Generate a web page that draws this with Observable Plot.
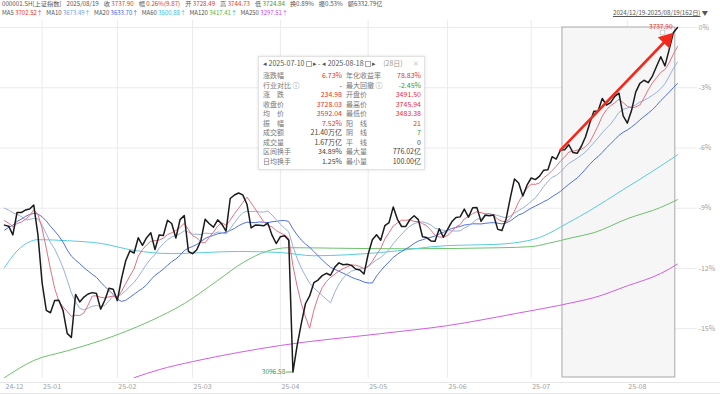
<!DOCTYPE html>
<html><head><meta charset="utf-8">
<script src="https://cdn.jsdelivr.net/npm/d3@7"></script>
<script src="https://cdn.jsdelivr.net/npm/@observablehq/plot@0.6"></script>
<style>
body{margin:0;background:#fff;font-family:"Noto Sans CJK SC","Noto Sans",sans-serif;}
#wrap{position:relative;width:720px;height:394px;overflow:hidden;background:#fff;}
#chart{position:absolute;left:0;top:0;}
.row{position:absolute;left:2px;white-space:nowrap;font-size:6.2px;color:#555;line-height:8px;}
.row span{margin-right:5px;}
#marow{font-size:6px;}
#marow span{margin-right:3.5px;}
.row b{font-weight:normal;}
.r{color:#e8322b;} .g{color:#2c9b3c;}
#range{position:absolute;right:12px;top:9px;font-size:6.2px;color:#555;line-height:8px;white-space:nowrap;}
#range u{text-decoration:underline;}
.axl{position:absolute;left:0;width:720px;height:1px;background:#e6e6e6;}
#box{position:absolute;left:258px;top:56px;width:165px;height:112px;background:#fff;border:1px solid #e2e2e2;box-shadow:0 0 3px rgba(0,0,0,0.12);font-size:7px;color:#555;}
#box div{position:absolute;white-space:nowrap;line-height:9px;}
.cal{display:inline-block;width:4px;height:4px;border:0.6px solid #aaa;margin:0 1px;vertical-align:middle;}
</style></head>
<body><div id="wrap"><div id="chart"></div>
<div class="row" style="top:0px">
<span>000001.SH[上证指数]</span><span>2025/08/19</span><span>收 <b class="r">3737.90</b></span><span>幅 <b class="r">0.26%(9.87)</b></span><span>开 <b class="r">3728.49</b></span><span>高 <b class="r">3744.73</b></span><span>低 <b class="g">3724.84</b></span><span>换0.89%</span><span>振0.53%</span><span>额6332.79亿</span>
</div>
<div class="row" id="marow" style="top:9px"></div>
<div id="range"><u>2024/12/19-2025/08/19(162日)</u> ▼</div>
<div class="axl" style="top:382px"></div>
<div class="axl" style="top:393px"></div>
<div id="box"></div>
</div>
<script>
// ---- data ----
const monthLabels = ["24-12","25-01","25-02","25-03","25-04","25-05","25-06","25-07","25-08"];
const monthTradingDays = [9,18,18,21,21,19,20,23,13];
const priorCloses = [3267.19,3263.76,3259.76,3309.78,3295.70,3326.46,3363.98,3378.81,3364.65,3368.86,3404.08,3402.53,3422.66,3432.49,3461.50,3391.88,3386.33,3361.49,3382.21];
const closes = [
3370.03,3368.07,3351.88,3393.53,3393.35,3398.08,3400.14,3407.33,3351.76,
3262.56,3211.43,3206.92,3229.64,3230.17,3211.39,3168.52,3160.76,3240.94,3227.12,3236.03,3241.82,3244.38,3242.62,3213.62,3230.16,3252.63,3250.60,
3229.49,3270.66,3303.67,3322.17,3318.06,3346.39,3332.48,3346.72,3355.83,3324.49,3351.54,3350.78,3379.11,3373.03,3346.04,3380.21,3388.06,3320.90,
3316.93,3324.21,3341.96,3381.10,3372.55,3366.16,3379.83,3371.92,3358.73,3419.56,3426.13,3429.76,3426.43,3408.95,3364.83,3370.03,3369.98,3368.70,3373.75,3351.31,3335.75,
3348.44,3350.13,3342.01,3096.58,3145.55,3186.81,3223.64,3238.23,3262.81,3267.66,3276.00,3280.34,3276.73,3291.43,3299.76,3296.36,3297.29,3295.06,3288.41,3286.65,3279.03,
3316.11,3342.67,3352.00,3341.97,3369.24,3374.87,3403.95,3380.82,3367.46,3367.58,3380.48,3387.57,3380.19,3348.37,3346.84,3340.69,3339.93,3363.45,3347.49,
3361.98,3376.20,3384.10,3385.36,3399.77,3384.82,3402.32,3402.66,3377.00,3388.81,3387.40,3388.81,3362.11,3359.90,3381.58,3420.57,3455.97,3448.45,3424.23,3444.43,
3457.75,3454.79,3461.15,3472.32,3473.13,3497.48,3493.05,3509.68,3510.18,3519.65,3505.00,3503.78,3516.83,3534.48,3559.79,3581.86,3582.30,3605.73,3593.66,3597.94,3609.71,3615.72,3573.21,
3559.95,3583.31,3617.60,3633.99,3639.67,3635.13,3647.55,3665.92,3683.46,3666.44,3696.77,3728.03,3737.90];
const ma60Idx = [0,3,6,8,15,23,31,40,56,66,74,90,106,117,122,128,135,140,148,155,161];
const ma60Val = [3291,3322,3339,3343,3341,3336,3323,3317,3321,3319,3313,3319,3332,3334,3337,3347,3375,3397,3436,3470,3500.88];
const ma120Idx = [0,7,15,23,35,43,51,57,63,68,80,95,119,126,130,136,141,149,157,161];
const ma120Val = [3086,3118,3136,3155,3192,3224,3267,3300,3322,3328,3327,3326,3328,3330,3336,3347,3356,3382,3403,3417.41];
const ma250Idx = [31,37,45,56,66,90,106,122,136,141,149,157,161];
const ma250Val = [3086,3101,3116,3133,3146,3168,3183,3205,3226,3235,3257,3280,3297.51];
const yTickPct = [0,-3,-6,-9,-12,-15];
const rangeStart = 133, rangeEnd = 160;
const maNames = ["MA5","MA10","MA20","MA60","MA120","MA250"];
const maHeaderVals = ["3702.52","3673.49","3633.70","3500.88","3417.41","3297.51"];
const maTextColors = ["#e8322b","#6f9be6","#3a62e0","#2cc0df","#45b845","#c848e0"];
const maLineColors = ["#e4707f","#98b0dc","#5070e0","#58cbe0","#6fc06f","#d25ee4"];
const boxLeftLabels = ["涨跌幅","行业对比 ⓘ","涨　跌","收盘价","均　价","振　幅","成交额","成交量","区间换手","日均换手"];
const boxLeftVals = ["6.73%","-","234.98","3728.03","3592.04","7.52%","21.40万亿","1.67万亿","34.89%","1.25%"];
const boxLeftTone = ["r","n","r","r","r","r","n","n","n","n"];
const boxRightLabels = ["年化收益率","最大回撤 ⓘ","开盘价","最高价","最低价","阳　线","阴　线","平　线","最大量","最小量"];
const boxRightVals = ["78.83%","-2.45%","3491.50","3745.94","3483.38","21","7","0","776.02亿","100.00亿"];
const boxRightTone = ["r","g","r","r","r","r","g","n","n","n"];

// ---- derived ----
const all = priorCloses.concat(closes);
const off = priorCloses.length;
function ma(n){return closes.map((_,i)=>({x:i,y:d3.mean(all.slice(i+off-n+1,i+off+1))}));}
const ma5 = ma(5), ma10 = ma(10), ma20 = ma(20);
const pts = (idx,val)=>idx.map((x,k)=>({x,y:val[k]}));
const ma60 = pts(ma60Idx,ma60Val), ma120 = pts(ma120Idx,ma120Val), ma250 = pts(ma250Idx,ma250Val);
const closeData = closes.map((y,x)=>({x,y}));
const monthStarts = []; {let c=0; monthLabels.forEach((l,k)=>{monthStarts.push({x:c,label:l}); c+=monthTradingDays[k];});}
const base = closes[closes.length-1];
const yTicks = yTickPct.map(p=>({p, y: base*(1+p/100)}));
const lowIdx = d3.minIndex(closes);
const last = closes.length-1;

const xDomain=[0,last], xRange=[4,677];
const yDomain=[base*0.85, base], yRange=[328.2,27];
const sx=d3.scaleLinear(xDomain,xRange), sy=d3.scaleLinear(yDomain,yRange);
const ax = {x1:rangeStart,y1:closes[rangeStart],x2:rangeEnd,y2:closes[rangeEnd]};
const ddx = sx(ax.x2)-sx(ax.x1), ddy = sy(ax.y2)-sy(ax.y1);
const theta = Math.atan2(ddx,-ddy);
const triR = 6, tipDist = 2*Math.sqrt(Math.PI*triR*triR/(3*Math.sqrt(3)));

const red="#f2291b";
const chart = Plot.plot({
  width:720, height:394, marginTop:20, marginBottom:16, marginLeft:0, marginRight:23,
  x:{domain:xDomain, range:xRange, axis:null},
  y:{domain:yDomain, range:yRange, axis:null},
  style:{fontFamily:'"Noto Sans CJK SC","Noto Sans",sans-serif', background:"transparent"},
  marks:[
    Plot.gridY(yTicks.map(d=>d.y),{stroke:"#ebebeb",strokeOpacity:1}),
    Plot.gridX(monthStarts.slice(1).map(d=>d.x),{stroke:"#ebebeb",strokeOpacity:1}),
    Plot.rect([{a:rangeStart,b:rangeEnd}],{x1:"a",x2:"b",insetLeft:2,insetRight:-2,insetTop:7,insetBottom:1,fill:"#f6f6f6",stroke:"#a8a8a8",strokeWidth:1}),
    Plot.text(yTicks,{y:"y",text:d=>d.p+"%",frameAnchor:"right",textAnchor:"start",dx:1,fill:"#a0a0a0",fontSize:7}),
    Plot.text(monthStarts,{x:"x",text:"label",frameAnchor:"bottom",textAnchor:"start",dx:1,dy:10,fill:"#a0a0a0",fontSize:7}),
    Plot.line(ma250,{x:"x",y:"y",curve:"monotone-x",stroke:maLineColors[5],strokeWidth:1}),
    Plot.line(ma120,{x:"x",y:"y",curve:"monotone-x",stroke:maLineColors[4],strokeWidth:1}),
    Plot.line(ma60,{x:"x",y:"y",curve:"monotone-x",stroke:maLineColors[3],strokeWidth:1}),
    Plot.line(ma20,{x:"x",y:"y",stroke:maLineColors[2],strokeWidth:1}),
    Plot.line(ma10,{x:"x",y:"y",stroke:maLineColors[1],strokeWidth:1}),
    Plot.line(ma5,{x:"x",y:"y",stroke:maLineColors[0],strokeWidth:1}),
    Plot.line(closeData,{x:"x",y:"y",stroke:"#1b1b1b",strokeWidth:1.5}),
    Plot.ruleY([{y:closes[lowIdx],a:lowIdx-1.6,b:lowIdx}],{y:"y",x1:"a",x2:"b",stroke:"#3a9a3a",strokeWidth:0.8}),
    Plot.text([{x:lowIdx-1.6,y:closes[lowIdx]}],{x:"x",y:"y",text:()=>closes[lowIdx].toFixed(2),textAnchor:"end",dx:-1,fill:"#3a9a3a",fontSize:6.5}),
    Plot.text([{x:last,y:closes[last]}],{x:"x",y:"y",text:()=>closes[last].toFixed(2),textAnchor:"end",dx:-5,dy:-1,fill:"#e8322b",fontSize:6.5}),
    Plot.dot([{x:last,y:closes[last]}],{x:"x",y:"y",symbol:"square",r:2.5,dx:-15,dy:5,stroke:"#bbb",fill:"#fff",strokeWidth:0.7}),
    Plot.arrow([ax],{x1:"x1",y1:"y1",x2:"x2",y2:"y2",stroke:red,strokeWidth:2.6,headLength:0,insetEnd:tipDist}),
    Plot.dot([ax],{x:"x2",y:"y2",symbol:"triangle",r:triR,rotate:theta*180/Math.PI,fill:red,stroke:"none",
      dx:-tipDist*Math.sin(theta), dy:tipDist*Math.cos(theta)})
  ]
});
document.getElementById("chart").appendChild(chart);

// header MA row
document.getElementById("marow").innerHTML = maNames.map((n,k)=>`<span>${n} <b style="color:${maTextColors[k]}">${maHeaderVals[k]}↑</b></span>`).join("");

// info box
const box = document.getElementById("box");
const tone = t=> t==="r"?"#e8322b":t==="g"?"#2c9b3c":"#444";
let h = `<div style="left:4px;top:2px;color:#555">◂ 2025-07-10<span class="cal"></span>▸ - ◂ 2025-08-18<span class="cal"></span>▸ <span style="color:#999;margin-left:6px">(28日)</span></div><div style="right:5px;top:2px;color:#ccc">✕</div>`;
for(let i=0;i<boxLeftLabels.length;i++){
  const top = 14 + i*9.55;
  h += `<div style="left:4px;top:${top}px;color:#777">${boxLeftLabels[i]}</div>`;
  h += `<div style="right:82px;top:${top}px;color:${tone(boxLeftTone[i])}">${boxLeftVals[i]}</div>`;
  h += `<div style="left:87px;top:${top}px;color:#777">${boxRightLabels[i]}</div>`;
  h += `<div style="right:3px;top:${top}px;color:${tone(boxRightTone[i])}">${boxRightVals[i]}</div>`;
}
box.innerHTML = h;
</script></body></html>
